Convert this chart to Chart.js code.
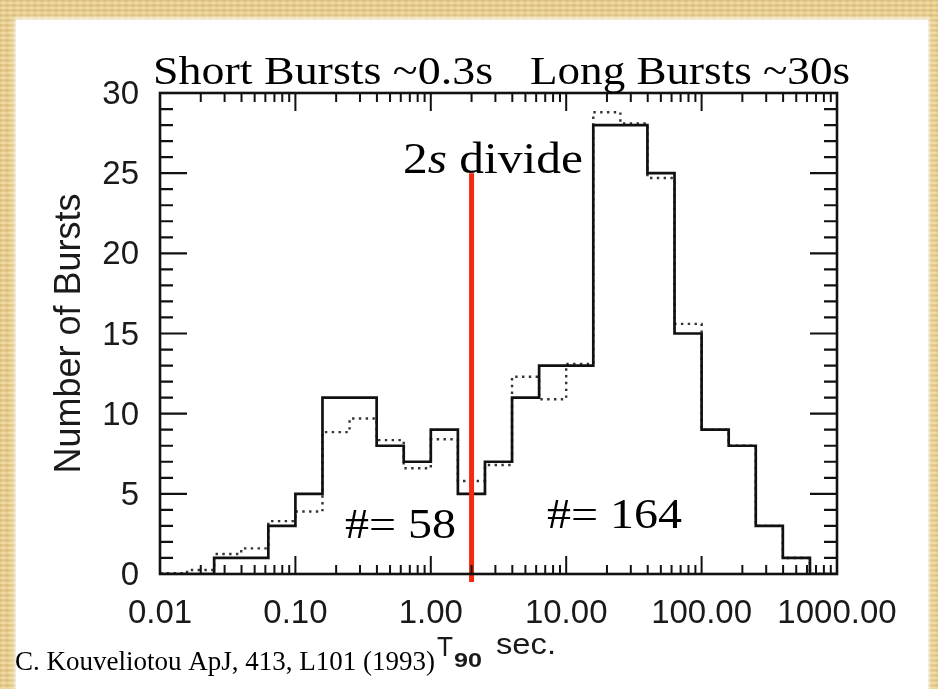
<!DOCTYPE html>
<html>
<head>
<meta charset="utf-8">
<title>BATSE T90 distribution</title>
<script src="https://cdn.jsdelivr.net/npm/chart.js@4.4.1/dist/chart.umd.min.js"></script>
<style>
  html, body { margin: 0; padding: 0; }
  body {
    width: 938px; height: 689px; overflow: hidden; position: relative;
    background-color: #e4c98a;
    background-image:
      repeating-linear-gradient(0deg, rgba(255,240,190,0.35) 0px, rgba(255,240,190,0.35) 2px, rgba(180,140,60,0.18) 3px, rgba(255,240,190,0) 5px),
      repeating-linear-gradient(90deg, rgba(170,130,50,0.15) 0px, rgba(255,245,200,0.2) 3px, rgba(170,130,50,0.1) 7px);
  }
  #panel {
    position: absolute; left: 16px; top: 20px; width: 912px; height: 669px;
    background: #ffffff;
    box-shadow: 0 0 4px 2px rgba(255,255,255,0.8);
  }
  #chart { position: absolute; left: 0; top: 0; }
</style>
</head>
<body>
<div id="panel"></div>
<canvas id="chart" width="938" height="689"></canvas>
<script>
// T90 bin edges (seconds), 0.2 decade wide
const binEdges = [0.01, 0.01585, 0.02512, 0.03981, 0.0631, 0.1, 0.1585, 0.2512, 0.3981, 0.631,
                  1, 1.585, 2.512, 3.981, 6.31, 10, 15.85, 25.12, 39.81, 63.1,
                  100, 158.5, 251.2, 398.1, 631, 1000];
// Burst counts per bin (solid histogram)
const solidCounts = [0, 0, 1, 1, 3, 5, 11, 11, 8, 7, 9, 5, 7, 11, 13, 13, 28, 28, 25, 15, 9, 8, 3, 1, 0];
// Comparison histogram (dotted)
const dottedCounts = [0.05, 0.25, 1.25, 1.6, 3.3, 3.9, 8.85, 9.7, 8.35, 6.6, 8.4, 5.8, 6.8, 12.3, 10.9, 13.1, 28.8, 28.1, 24.7, 15.6, 9, 8, 3, 1, 0];
// Axis ticks
const xMajorTicks = [0.01, 0.1, 1, 10, 100, 1000];
const yMajorTicks = [0, 5, 10, 15, 20, 25, 30];
// Short/long divide line
const divideT90 = 2;
const divideTop = 25;
const divideBottom = -0.5;
// Annotations
const headlineShort = 'Short Bursts ~0.3s';
const headlineLong = 'Long Bursts ~30s';
const shortCount = '#= 58';
const longCount = '#= 164';
const citation = 'C. Kouveliotou ApJ, 413, L101 (1993)';

function histogramPoints(counts) {
  const pts = counts.map((c, i) => ({ x: binEdges[i], y: c }));
  pts.push({ x: binEdges[counts.length], y: 0 });
  return pts;
}

// Stretch a run of text pieces to a given width
function drawRun(ctx, pieces, x, baseline, width) {
  let total = 0;
  pieces.forEach(p => { ctx.font = p.font; p.w = ctx.measureText(p.text).width; total += p.w; });
  const k = width ? width / total : 1;
  ctx.save();
  ctx.translate(x, baseline);
  ctx.scale(k, 1);
  let cx = 0;
  pieces.forEach(p => {
    ctx.font = p.font;
    ctx.fillText(p.text, cx, p.dy || 0);
    cx += p.w;
  });
  ctx.restore();
}

const frameTicks = {
  id: 'frameTicks',
  afterDatasetsDraw(chart) {
    const { ctx, chartArea: a, scales: { x, y } } = chart;
    ctx.save();
    ctx.strokeStyle = '#111';
    ctx.lineCap = 'butt';
    // y ticks, left and right, pointing inward
    for (let v = 0; v <= 30; v++) {
      const py = y.getPixelForValue(v);
      const len = v % 5 === 0 ? 27 : 13;
      ctx.lineWidth = 2.2;
      ctx.beginPath();
      ctx.moveTo(a.left, py); ctx.lineTo(a.left + len, py);
      ctx.moveTo(a.right, py); ctx.lineTo(a.right - len, py);
      ctx.stroke();
    }
    // x ticks on log scale, bottom and top
    for (let d = 0; d < xMajorTicks.length; d++) {
      const base = xMajorTicks[d];
      for (let m = 1; m <= 9; m++) {
        const v = base * m;
        if (v > 1000 || (m > 1 && d === xMajorTicks.length - 1)) continue;
        const px = x.getPixelForValue(v);
        const len = m === 1 ? 18 : 9;
        ctx.lineWidth = 2;
        ctx.beginPath();
        ctx.moveTo(px, a.bottom); ctx.lineTo(px, a.bottom - len);
        ctx.moveTo(px, a.top); ctx.lineTo(px, a.top + len);
        ctx.stroke();
      }
    }
    // frame
    ctx.lineWidth = 2.6;
    ctx.strokeRect(a.left, a.top, a.right - a.left, a.bottom - a.top);
    ctx.restore();
  },
  afterDraw(chart) {
    const { ctx } = chart;
    ctx.save();
    ctx.fillStyle = '#000';
    ctx.textBaseline = 'alphabetic';
    const serif = '"Liberation Serif", "Times New Roman", serif';
    drawRun(ctx, [{ text: headlineShort, font: '40px ' + serif }], 153, 84, 340);
    drawRun(ctx, [{ text: headlineLong, font: '40px ' + serif }], 530, 84, 320);
    drawRun(ctx, [
      { text: '2', font: '44px ' + serif },
      { text: 's', font: 'italic 44px ' + serif },
      { text: ' divide', font: '44px ' + serif }
    ], 403, 173, 180);
    drawRun(ctx, [{ text: shortCount, font: '42px ' + serif }], 345, 538, 111);
    drawRun(ctx, [{ text: longCount, font: '42px ' + serif }], 547, 528, 135);
    drawRun(ctx, [{ text: citation, font: '27px ' + serif }], 15, 670, 420);
    // x-axis title: T90 sec.
    const sans = '"Liberation Sans", Arial, sans-serif';
    ctx.fillStyle = '#1a1a1a';
    drawRun(ctx, [{ text: 'T', font: '27px ' + sans }], 437, 656, 16);
    drawRun(ctx, [{ text: '90', font: 'bold 21px ' + sans }], 454, 667, 28);
    drawRun(ctx, [{ text: 'sec.', font: '30px ' + sans }], 496, 654, 60);
    ctx.restore();
  }
};

new Chart(document.getElementById('chart'), {
  type: 'line',
  data: {
    datasets: [
      {
        label: '2 s divide',
        data: [{ x: divideT90, y: divideTop }, { x: divideT90, y: divideBottom }],
        borderColor: '#f42a0c',
        borderWidth: 5,
        pointRadius: 0,
        clip: false
      },
      {
        label: 'T90',
        data: histogramPoints(solidCounts),
        stepped: 'before',
        borderColor: '#111',
        borderWidth: 2.7,
        pointRadius: 0,
        borderJoinStyle: 'miter'
      },
      {
        label: 'T90 (comparison)',
        data: histogramPoints(dottedCounts),
        stepped: 'before',
        borderColor: '#333',
        borderWidth: 2.4,
        borderDash: [2.4, 4.4],
        pointRadius: 0
      }
    ]
  },
  options: {
    responsive: false,
    animation: false,
    devicePixelRatio: 1,
    layout: { padding: { left: 0, top: 93, right: 101, bottom: 0 } },
    plugins: { legend: { display: false }, tooltip: { enabled: false } },
    scales: {
      x: {
        type: 'logarithmic',
        min: 0.01,
        max: 1000,
        grid: { display: false },
        border: { display: false },
        afterBuildTicks(scale) { scale.ticks = xMajorTicks.map(v => ({ value: v })); },
        afterFit(scale) { scale.height = 115; },
        ticks: {
          autoSkip: false,
          maxRotation: 0,
          padding: 12,
          color: '#1a1a1a',
          font: { family: '"Liberation Sans", Arial, sans-serif', size: 33 },
          callback: v => Number(v).toFixed(2)
        }
      },
      y: {
        min: 0,
        max: 30,
        grid: { display: false },
        border: { display: false },
        afterBuildTicks(scale) { scale.ticks = yMajorTicks.map(v => ({ value: v })); },
        afterFit(scale) { scale.width = 160; },
        ticks: {
          padding: 13,
          labelOffset: 2,
          color: '#1a1a1a',
          font: { family: '"Liberation Sans", Arial, sans-serif', size: 33 }
        },
        title: {
          display: true,
          text: 'Number of Bursts',
          color: '#1a1a1a',
          font: { family: '"Liberation Sans", Arial, sans-serif', size: 36 },
          padding: { top: 48, bottom: 0 }
        }
      }
    }
  },
  plugins: [frameTicks]
});
</script>
</body>
</html>
